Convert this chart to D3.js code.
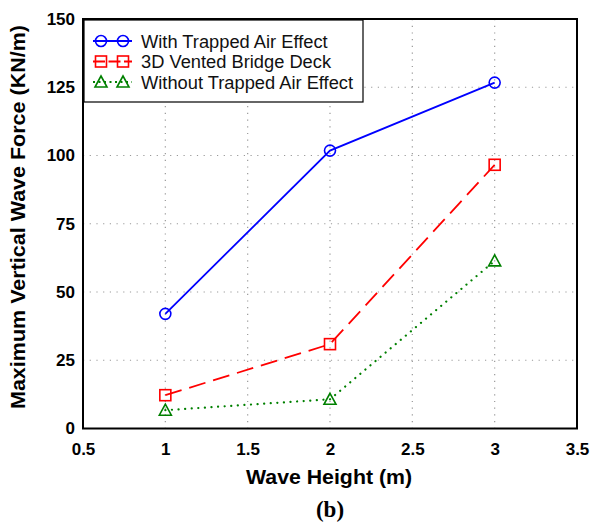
<!DOCTYPE html>
<html><head><meta charset="utf-8">
<script src="https://cdn.jsdelivr.net/npm/d3@7"></script>
<style>body{margin:0;background:#fff}svg{display:block}</style>
</head><body>
<svg id="c" width="595" height="527"></svg>
<script>
const waveHeights = [1, 2, 3];
const withTrapped = [42, 101.8, 126.7];
const ventedDeck = [12.2, 30.9, 96.6];
const withoutTrapped = [6.7, 10.7, 61.4];
const xTicks = [0.5, 1, 1.5, 2, 2.5, 3, 3.5];
const yTicks = [0, 25, 50, 75, 100, 125, 150];
const seriesNames = ["With Trapped Air Effect", "3D Vented Bridge Deck", "Without Trapped Air Effect"];

const svg = d3.select("#c");
const L = 83, R = 577, T = 19, B = 428.5;
const x = d3.scaleLinear().domain([0.5, 3.5]).range([L, R]);
const y = d3.scaleLinear().domain([0, 150]).range([B, T]);
const FONT = "Liberation Sans, Arial, sans-serif";

// grid
const g = svg.append("g");
g.selectAll(".gx").data(xTicks.filter(d => d > 0.5 && d < 3.5)).enter().append("line")
  .attr("x1", d => x(d)).attr("x2", d => x(d)).attr("y1", T).attr("y2", B)
  .attr("stroke", "#999").attr("stroke-width", 1.2).attr("stroke-dasharray", "1.2,5.5");
g.selectAll(".gy").data(yTicks.filter(d => d > 0 && d < 150)).enter().append("line")
  .attr("y1", d => y(d)).attr("y2", d => y(d)).attr("x1", L).attr("x2", R)
  .attr("stroke", "#999").attr("stroke-width", 1.2).attr("stroke-dasharray", "1.2,5.5");

// axes (labels only)
const xAxis = d3.axisBottom(x).tickValues(xTicks).tickSize(0).tickPadding(14).tickFormat(d3.format("~g"));
const yAxis = d3.axisLeft(y).tickValues(yTicks).tickSize(0).tickPadding(8);
const ax = svg.append("g").attr("transform", `translate(0,${B})`).call(xAxis);
const ay = svg.append("g").attr("transform", `translate(${L},0)`).call(yAxis);
[ax, ay].forEach(a => {
  a.select(".domain").remove();
  a.selectAll("text").attr("font-family", FONT)
    .attr("font-weight", "bold").attr("font-size", 17).attr("fill", "#000");
});

const series = [
  {name: seriesNames[0], vals: withTrapped, color: "#0000ff", dash: null, marker: "circle"},
  {name: seriesNames[1], vals: ventedDeck, color: "#ff0000", dash: "17,8", marker: "square"},
  {name: seriesNames[2], vals: withoutTrapped, color: "#008000", dash: "0.1,6.5", marker: "triangle"}
];

const line = d3.line().x((d, i) => x(waveHeights[i])).y(d => y(d));

function drawMarker(sel, type, color, cx, cy) {
  if (type === "circle") {
    sel.append("circle").attr("cx", cx).attr("cy", cy).attr("r", 5.5)
      .attr("fill", "none").attr("stroke", color).attr("stroke-width", 1.6);
  } else if (type === "square") {
    sel.append("rect").attr("x", cx - 5.5).attr("y", cy - 5.5).attr("width", 11).attr("height", 11)
      .attr("fill", "none").attr("stroke", color).attr("stroke-width", 1.6);
  } else {
    sel.append("path").attr("d", `M${cx},${cy - 6}L${cx + 6},${cy + 5}L${cx - 6},${cy + 5}Z`)
      .attr("fill", "none").attr("stroke", color).attr("stroke-width", 1.6);
  }
}

series.forEach(s => {
  const p = svg.append("path").datum(s.vals).attr("d", line)
    .attr("fill", "none").attr("stroke", s.color).attr("stroke-width", 1.8)
    .attr("stroke-dasharray", s.dash);
  if (s.marker === "triangle") p.attr("stroke-linecap", "round").attr("stroke-width", 2.2);
  s.vals.forEach((v, i) => drawMarker(svg, s.marker, s.color, x(waveHeights[i]), y(v)));
});

// frame
svg.append("rect").attr("x", L).attr("y", T).attr("width", R - L).attr("height", B - T)
  .attr("fill", "none").attr("stroke", "#000").attr("stroke-width", 2);

// legend
const lg = svg.append("g");
lg.append("rect").attr("x", L + 1).attr("y", T + 1).attr("width", 279).attr("height", 82)
  .attr("fill", "#fff").attr("stroke", "#000").attr("stroke-width", 1.2);
series.forEach((s, i) => {
  const ly = 41 + i * 20.5;
  const ln = lg.append("line").attr("x1", 93).attr("x2", 132).attr("y1", ly).attr("y2", ly)
    .attr("stroke", s.color).attr("stroke-width", 1.8);
  if (s.marker === "square") ln.attr("stroke-dasharray", "12,3.5");
  if (s.marker === "triangle") ln.attr("stroke-dasharray", "2,3.5");
  drawMarker(lg, s.marker, s.color, 101, ly);
  drawMarker(lg, s.marker, s.color, 123, ly);
  lg.append("text").attr("x", 141).attr("y", ly + 6.5).text(s.name)
    .attr("font-family", FONT).attr("font-size", 18.3).attr("fill", "#111");
});

// axis titles
svg.append("text").attr("x", 329).attr("y", 484).attr("text-anchor", "middle")
  .attr("font-family", FONT).attr("font-weight", "bold").attr("font-size", 20)
  .attr("textLength", 166).attr("lengthAdjust", "spacingAndGlyphs")
  .text("Wave Height (m)");
svg.append("text").attr("transform", `translate(25,${217}) rotate(-90)`).attr("text-anchor", "middle")
  .attr("font-family", FONT).attr("font-weight", "bold").attr("font-size", 19.5)
  .attr("textLength", 384).attr("lengthAdjust", "spacingAndGlyphs")
  .text("Maximum Vertical Wave Force (KN/m)");
svg.append("text").attr("x", 330).attr("y", 517).attr("text-anchor", "middle")
  .attr("font-family", "Liberation Serif, Times New Roman, serif").attr("font-weight", "bold").attr("font-size", 23)
  .text("(b)");
</script>
</body></html>
